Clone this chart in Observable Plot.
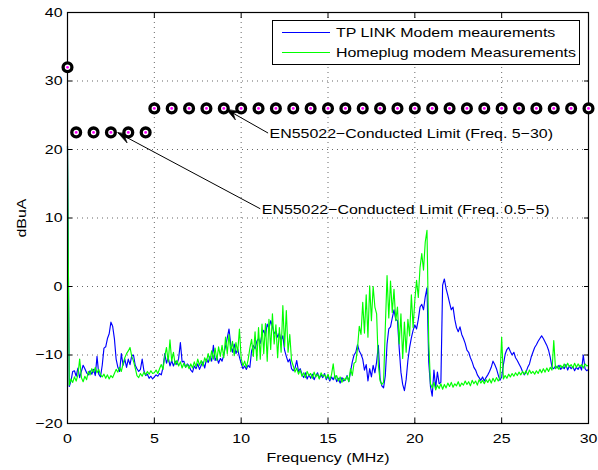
<!DOCTYPE html>
<html>
<head>
<meta charset="utf-8">
<script src="https://cdn.jsdelivr.net/npm/d3@7"></script>
<script src="https://cdn.jsdelivr.net/npm/@observablehq/plot@0.6"></script>
<style>
  html, body { margin: 0; padding: 0; background: #fff; }
  #wrap { position: relative; width: 598px; height: 470px; }
  #legend { position: absolute; left: 0; top: 0; pointer-events: none; }
</style>
</head>
<body>
<div id="wrap"></div>
<script>
// Frequency grid of the measurements (MHz): one sample every 0.1 MHz from 0 to 30
const freqStartMHz = 0;
const freqStepMHz = 0.1;

// Conducted emission of the TP LINK modem (dBuA), one row per MHz
const tpLink = [
  20.5, -14.6, -13.8, -12.4, -12.3, -13.1, -11.9, -13.3, -12.4, -11.5,
  -12.0, -12.6, -12.9, -12.3, -12.8, -12.1, -13.0, -10.2, -12.8, -13.2,
  -11.5, -9.0, -8.8, -7.6, -6.9, -5.2, -5.8, -7.6, -10.6, -11.8,
  -12.4, -9.8, -11.5, -10.6, -11.8, -10.6, -11.4, -10.1, -10.0, -11.5,
  -12.0, -12.4, -12.1, -10.6, -12.3, -13.0, -12.8, -13.4, -13.1, -13.5,
  -13.2, -12.9, -13.1, -12.7, -12.9, -11.8, -9.8, -11.2, -10.4, -11.6,
  -10.8, -11.6, -10.9, -11.4, -10.5, -8.2, -11.0, -10.9, -11.8, -11.3,
  -11.6, -12.2, -12.5, -11.6, -12.0, -11.3, -12.1, -11.5, -11.0, -11.9,
  -10.6, -11.1, -10.2, -10.9, -8.6, -10.8, -10.3, -11.2, -10.5, -10.9,
  -10.0, -8.7, -7.5, -6.2, -8.5, -9.6, -8.4, -9.8, -9.1, -10.3,
  -11.2, -12.0, -11.6, -12.1, -11.5, -11.8, -9.4, -8.6, -9.1, -8.0,
  -7.6, -8.3, -7.0, -6.4, -7.2, -5.5, -6.1, -5.0, -5.8, -6.9,
  -6.5, -7.4, -6.8, -7.9, -7.2, -9.3, -10.2, -11.0, -10.6, -12.0,
  -12.3, -11.9, -10.8, -12.4, -12.0, -12.8, -13.3, -12.6, -13.5, -12.9,
  -13.4, -12.8, -13.6, -13.0, -12.6, -13.4, -12.9, -13.3, -12.7, -13.6,
  -13.1, -13.8, -13.2, -13.6, -13.0, -13.9, -13.4, -14.1, -13.3, -13.8,
  -13.6, -13.0, -13.9, -12.4, -11.0, -10.0, -9.6, -8.5, -9.4, -9.9,
  -10.6, -12.2, -11.4, -13.8, -12.0, -13.2, -11.5, -12.6, -11.0, -8.6,
  -13.5, -14.5, -14.8, -13.0, -8.4, -6.2, -5.9, -4.6, -3.4, -4.8,
  -5.0, -9.0, -12.5, -14.3, -15.2, -13.6, -10.8, -8.9, -7.5, -6.4,
  -5.6, -6.2, -4.8, -3.0, -2.6, -3.4, -1.5, -0.2, -11.0, -14.6,
  -16.0, -12.2, -14.8, -12.5, -14.2, -14.0, 0.2, 1.1, -0.3, -1.3,
  -2.4, -3.4, -3.0, -4.8, -6.0, -6.6, -5.9, -7.0, -7.6, -8.3,
  -9.3, -9.6, -10.4, -11.0, -11.8, -12.2, -12.9, -13.3, -13.7, -13.2,
  -13.8, -13.3, -12.9, -12.4, -11.8, -10.9, -11.4, -12.0, -12.9, -13.7,
  -13.2, -11.4, -9.9, -9.2, -8.9, -9.5, -10.0, -9.6, -10.4, -10.8,
  -11.3, -11.8, -12.4, -12.9, -12.5, -11.8, -11.3, -10.3, -9.6, -8.9,
  -8.5, -8.0, -7.6, -7.2, -7.6, -8.1, -8.6, -9.3, -10.4, -11.8,
  -12.0, -11.6, -11.9, -11.5, -12.1, -11.7, -12.0, -11.4, -12.2, -11.6,
  -12.0, -11.7, -12.3, -11.8, -12.1, -11.6, -12.2, -10.0, -12.0, -12.3,
  -12.1
];

// Conducted emission of the Homeplug modem (dBuA), one row per MHz
const homeplug = [
  20.5, -14.4, -13.5, -14.0, -13.2, -13.8, -12.9, -10.6, -13.3, -13.9,
  -13.1, -13.6, -12.4, -12.9, -12.0, -12.5, -11.8, -12.6, -12.1, -12.9,
  -13.2, -12.8, -13.4, -12.9, -13.5, -13.0, -13.3, -12.7, -12.1, -12.5,
  -11.8, -12.4, -11.3, -10.4, -9.8, -9.4, -8.9, -10.2, -10.9, -11.9,
  -13.0, -13.3, -12.7, -13.1, -12.5, -12.9, -12.4, -12.8, -12.3, -12.7,
  -12.6, -12.2, -12.7, -12.0, -11.4, -12.1, -10.2, -8.9, -11.0, -7.8,
  -10.9, -9.6, -11.4, -10.8, -11.6, -11.0, -11.9, -11.2, -11.8, -11.4,
  -12.0, -11.3, -11.9, -11.0, -11.7, -10.6, -11.5, -10.8, -11.6, -10.4,
  -11.0, -9.8, -10.9, -9.4, -10.6, -9.0, -10.8, -8.8, -10.2, -8.6,
  -10.4, -7.4, -9.8, -7.0, -9.5, -8.0, -10.1, -8.2, -9.6, -6.2,
  -10.5, -11.6, -10.9, -11.8, -10.7, -9.0, -7.7, -10.2, -6.6, -10.8,
  -6.0, -10.6, -5.5, -9.8, -5.4, -10.9, -4.8, -9.2, -4.0, -8.4,
  -5.6, -10.4, -6.0, -9.6, -2.8, -8.8, -3.5, -9.6, -7.0, -10.8,
  -11.6, -12.5, -11.9, -12.8, -12.2, -13.1, -12.6, -13.3, -12.4, -13.0,
  -12.7, -13.4, -12.5, -13.2, -12.8, -13.5, -12.6, -13.1, -12.9, -13.4,
  -12.8, -13.6, -12.9, -11.3, -13.5, -13.0, -13.8, -13.2, -14.0, -13.4,
  -13.7, -13.1, -13.9, -12.0, -13.0, -11.2, -11.0, -9.0, -5.8, -7.0,
  -2.3, -6.8, -1.2, -7.4, 0.1, -5.0, 0.0, -3.0, -4.0, -11.5,
  -13.8, -14.3, -14.0, -6.0, 1.6, -4.6, 0.8, -3.8, -0.4, -5.0,
  -3.0, -8.4, -4.0, -10.5, -5.2, -9.6, -4.8, -7.2, -1.2, -6.0,
  -2.0, 0.9, -1.6, 2.8, 4.8, 2.4, 6.5, 8.2, -8.0, -14.2,
  -14.8, -14.0, -15.1, -14.4, -14.9, -14.2, -15.0, -14.3, -14.8, -14.1,
  -14.6, -14.0, -14.7, -14.2, -14.5, -13.9, -14.6, -14.1, -14.4, -13.8,
  -14.3, -13.9, -14.5, -13.7, -14.2, -13.8, -14.4, -13.6, -14.1, -13.7,
  -14.2, -13.6, -14.0, -13.5, -14.1, -13.4, -13.9, -13.3, -13.8, -13.4,
  -7.4, -13.5, -13.0, -13.4, -12.8, -13.2, -12.7, -13.1, -12.6, -13.0,
  -12.5, -12.9, -12.4, -12.8, -12.3, -12.9, -12.2, -12.7, -12.4, -12.8,
  -12.3, -12.7, -12.1, -12.6, -12.0, -12.5, -11.9, -12.4, -11.8, -12.2,
  -7.9, -12.0, -11.6, -12.1, -11.5, -11.9, -11.3, -11.8, -11.2, -11.7,
  -11.4, -11.9, -11.2, -11.8, -11.3, -11.7, -11.4, -11.9, -11.3, -11.6,
  -11.5
];

// EN55022 conducted limit points
const limitFreq = [0, 0.5, 1.5, 2.5, 3.5, 4.5,
  5, 6, 7, 8, 9, 10, 11, 12, 13, 14, 15, 16, 17, 18, 19, 20, 21, 22, 23, 24, 25, 26, 27, 28, 29, 30];
const limitLevel = [32, 22.5, 22.5, 22.5, 22.5, 22.5,
  26, 26, 26, 26, 26, 26, 26, 26, 26, 26, 26, 26, 26, 26, 26, 26, 26, 26, 26, 26, 26, 26, 26, 26, 26, 26];

// Annotation arrows: label position and the limit point each one points at
const noteText = ["EN55022\u2212Conducted Limit (Freq. 5\u221230)", "EN55022\u2212Conducted Limit (Freq. 0.5\u22125)"];
const noteFreq = [11.55, 11.1];
const noteLevel = [22.4, 11.35];
const noteTipFreq = [9.15, 2.9];
const noteTipLevel = [25.85, 22.45];

// Axis ticks and labels
const xTicks = [0, 5, 10, 15, 20, 25, 30];
const yTicks = [-20, -10, 0, 10, 20, 30, 40];
const xTitle = "Frequency (MHz)";
const yTitle = "dBuA";

// Series names and colours
const seriesNames = ["TP LINK Modem meaurements", "Homeplug modem Measurements"];
const seriesColors = ["#0000ff", "#00ff00"];

// Layout
const W = 598, H = 470;
const M = {left: 67, right: 10, top: 12, bottom: 47};
const xDomain = [0, 30], yDomain = [-20, 40];
const fontFamily = "Liberation Sans, Arial, Helvetica, sans-serif";
const fontSize = 13.5;
const stretch = 1.18;   // the lettering is set a little wider than stock Liberation Sans

const measurements = tpLink.map((v, i) => ({
  freq: freqStartMHz + i * freqStepMHz,
  tp: v,
  hp: homeplug[i]
}));
const limits = limitFreq.map((f, i) => ({freq: f, level: limitLevel[i]}));

// screen angle of each annotation arrow (degrees clockwise from up)
const pxPerMHz = (W - M.left - M.right) / (xDomain[1] - xDomain[0]);
const pxPerDb = (H - M.top - M.bottom) / (yDomain[1] - yDomain[0]);
const notes = noteText.map((t, i) => {
  const dx = (noteTipFreq[i] - noteFreq[i]) * pxPerMHz;
  const dy = -(noteTipLevel[i] - noteLevel[i]) * pxPerDb;
  return {text: t, x: noteFreq[i], y: noteLevel[i], tx: noteTipFreq[i], ty: noteTipLevel[i],
          angle: Math.atan2(dx, -dy) * 180 / Math.PI};
});

// filled swept-back arrowhead, tip at (0, -l)
const vback = {
  draw(context, l) {
    const w = l * 0.36;
    context.moveTo(0, -l);
    context.lineTo(-w, 0);
    context.lineTo(0, -l * 0.4);
    context.lineTo(w, 0);
    context.closePath();
  }
};

const grid = {stroke: "#000", strokeOpacity: 0.75, strokeWidth: 0.8, strokeDasharray: "1,4"};

const chart = Plot.plot({
  width: W,
  height: H,
  marginLeft: M.left,
  marginRight: M.right,
  marginTop: M.top,
  marginBottom: M.bottom,
  style: {fontFamily, fontSize: fontSize + "px", background: "#fff", color: "#000"},
  x: {domain: xDomain},
  y: {domain: yDomain},
  marks: [
    Plot.gridX(xTicks.slice(1, -1), grid),
    Plot.gridY(yTicks.slice(1, -1), grid),
    Plot.line(measurements, {x: "freq", y: "tp", stroke: seriesColors[0], strokeWidth: 1.15}),
    Plot.line(measurements, {x: "freq", y: "hp", stroke: seriesColors[1], strokeWidth: 1.15}),
    Plot.axisX({anchor: "bottom", ticks: xTicks, tickSize: -5, tickPadding: 15, label: null}),
    Plot.axisX({anchor: "top", ticks: xTicks, tickSize: -5, tickFormat: () => "", label: null}),
    Plot.axisY({anchor: "left", ticks: yTicks, tickSize: -5, tickPadding: 10, label: null}),
    Plot.axisY({anchor: "right", ticks: yTicks, tickSize: -5, tickFormat: () => "", label: null}),
    Plot.frame({stroke: "#000", strokeWidth: 1.2}),
    Plot.link(notes, {x1: "x", y1: "y", x2: "tx", y2: "ty", stroke: "#000", strokeWidth: 1}),
    Plot.vector(notes, {x: "tx", y: "ty", rotate: "angle", length: 13, anchor: "end", shape: vback,
                        fill: "#000", stroke: "#000", strokeWidth: 0.6}),
    Plot.text(notes, {x: "x", y: "y", text: "text", textAnchor: "start", lineAnchor: "middle", dx: 1.5, dy: 1, fill: "#000"}),
    Plot.dot(limits, {x: "freq", y: "level", r: 4.4, stroke: "#000", strokeWidth: 3.3, fill: "#fff"}),
    Plot.dot(limits, {x: "freq", y: "level", r: 1.4, fill: "#ff00ff", stroke: "none"}),
    Plot.text([xTitle], {frameAnchor: "bottom", dy: 34, lineAnchor: "middle", textAnchor: "middle", fill: "#000"}),
    Plot.text([yTitle], {frameAnchor: "left", dx: -46, rotate: -90, lineAnchor: "middle", textAnchor: "middle", fill: "#000"})
  ]
});

const wrap = document.getElementById("wrap");
wrap.appendChild(chart);

// Legend box in the upper right of the axes
const legendBox = {x: 272.5, y: 20.5, w: 307, h: 44};
const legend = d3.select(wrap).append("svg")
  .attr("id", "legend")
  .attr("width", W).attr("height", H)
  .style("font-family", fontFamily)
  .style("font-size", fontSize + "px");
legend.append("rect")
  .attr("x", legendBox.x).attr("y", legendBox.y)
  .attr("width", legendBox.w).attr("height", legendBox.h)
  .attr("fill", "#fff").attr("stroke", "#000").attr("stroke-width", 1);
const rows = legend.selectAll("g.row").data(seriesNames).join("g")
  .attr("class", "row")
  .attr("transform", (d, i) => `translate(${legendBox.x},${legendBox.y + 12 + i * 20})`);
rows.append("line")
  .attr("x1", 9.5).attr("x2", 57.5).attr("y1", 0).attr("y2", 0)
  .attr("stroke", (d, i) => seriesColors[i]).attr("stroke-width", 1.1);
rows.append("text")
  .attr("x", 63.5).attr("dy", "0.34em")
  .attr("fill", "#000")
  .text(d => d);

// widen the lettering in both the chart and the legend
for (const svg of [chart, legend.node()]) {
  svg.querySelectorAll("text").forEach(t => {
    const w = t.getComputedTextLength();
    if (w > 0) {
      t.setAttribute("textLength", (w * stretch).toFixed(1));
      t.setAttribute("lengthAdjust", "spacingAndGlyphs");
    }
  });
}
</script>
</body>
</html>
